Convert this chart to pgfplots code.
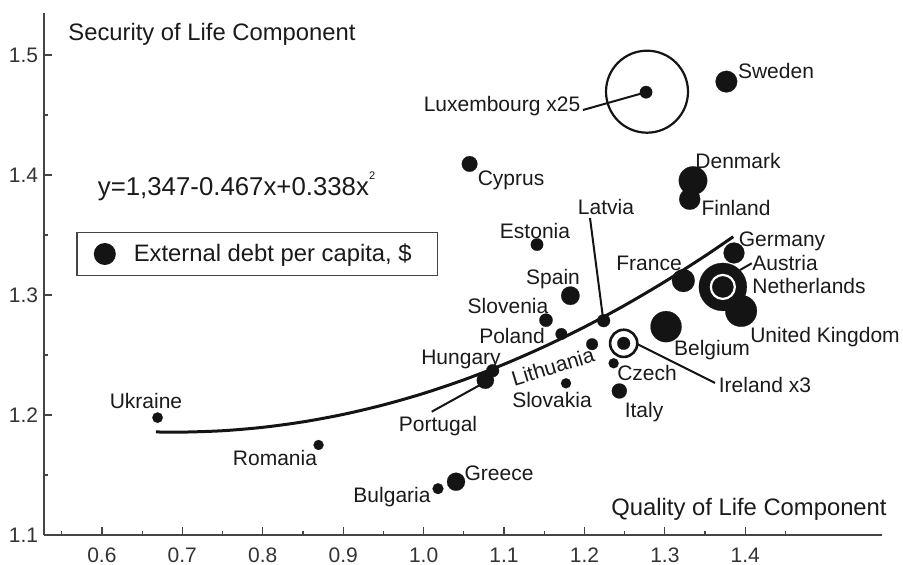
\documentclass[border=0pt]{standalone}
\usepackage{pgfplots}
\usepackage{pgfplotstable}
\pgfplotsset{compat=1.18}
\usepackage{fontspec}
\setmainfont{Liberation Sans}
\definecolor{dotc}{HTML}{141414}
\definecolor{txtc}{HTML}{1A1A1A}
\definecolor{axc}{HTML}{444444}
\definecolor{tickc}{HTML}{333333}

\pgfplotstableread{
name x y r
Ukraine 0.6692 1.1978 2.6
Romania 0.8694 1.1750 2.5
Bulgaria 1.0179 1.1386 2.7
Greece 1.0403 1.1444 4.5
Portugal 1.0768 1.2290 4.3
Hungary 1.0859 1.2369 3.2
Cyprus 1.0572 1.4092 3.9
Estonia 1.1410 1.3420 3.1
Slovenia 1.1522 1.2790 3.3
Spain 1.1825 1.2994 4.6
Poland 1.1713 1.2675 2.9
Slovakia 1.1771 1.2264 2.5
Lithuania 1.2095 1.2590 2.9
Latvia 1.2239 1.2786 3.2
Czech 1.2363 1.2431 2.5
Italy 1.2434 1.2200 3.75
Belgium 1.3015 1.2736 7.75
France 1.3230 1.3120 5.7
Netherlands 1.3721 1.3067 12.0
Germany 1.3860 1.3350 5.2
UnitedKingdom 1.3948 1.2867 7.9
Denmark 1.3350 1.3953 7.1
Finland 1.3309 1.3798 5.25
Sweden 1.3765 1.4778 5.4
}\bubbles

\pgfplotstableread{
x y
0.667 1.18588
0.70 1.18572
0.75 1.18688
0.80 1.18972
0.85 1.19426
0.90 1.20048
0.95 1.20840
1.00 1.21800
1.05 1.22930
1.10 1.24228
1.15 1.25696
1.20 1.27332
1.25 1.29138
1.30 1.31112
1.35 1.33256
1.385 1.34857
}\trend

\newcommand\lbl[4][]{\node[lab,#1] at ({(#2-44)*0.5pt},{(535-#3)*0.5pt}) {#4};}
\newcommand\lead[4]{\draw[leader] ({(#1-44)*0.5pt},{(535-#2)*0.5pt}) -- ({(#3-44)*0.5pt},{(535-#4)*0.5pt});}

\begin{document}
\begin{tikzpicture}[
  lab/.style={font=\fontsize{10.5}{12}\selectfont, text=txtc, inner sep=0pt, text height=0.716em, text depth=0pt},
  big/.style={font=\fontsize{11.9}{14}\selectfont, text=txtc, inner sep=0pt, text height=0.716em, text depth=0pt},
  leader/.style={draw=dotc, line width=1pt}]
\path[use as bounding box] (-22pt,-15pt) rectangle (429.5pt,267.5pt);
\begin{axis}[
  at={(0,0)}, anchor=south west, scale only axis,
  width=419pt, height=261pt,
  xmin=0.528, xmax=1.570, ymin=1.1, ymax=1.535,
  axis lines*=left,
  axis line style={draw=axc, line width=0.9pt},
  xtick={0.6,0.7,0.8,0.9,1.0,1.1,1.2,1.3,1.4},
  minor xtick={0.55,0.65,0.75,0.85,0.95,1.05,1.15,1.25,1.35,1.45},
  ytick={1.1,1.2,1.3,1.4,1.5},
  minor ytick={1.15,1.25,1.35,1.45},
  tick align=inside,
  major tick length=3.8pt, minor tick length=2pt,
  every tick/.style={draw=axc, line width=0.6pt},
  tick label style={font=\fontsize{10.5}{12}\selectfont, text=tickc},
  xticklabel style={inner ysep=0.5pt, yshift=-5.8pt},
  yticklabel style={xshift=0.6pt},
  /pgf/number format/.cd, fixed, fixed zerofill, precision=1, assume math mode=true,
  /pgfplots/.cd,
  clip=false,
  legend style={at={(axis description cs:0.0382,0.581)}, anchor=north west,
    draw=axc, line width=0.8pt, inner sep=0pt, fill=white,
    font=\fontsize{11.9}{14}\selectfont, text=txtc,
    nodes={inner sep=0pt}, column sep=0pt},
  legend cell align=left,
]
\addlegendimage{legend image code/.code={\fill[dotc, draw=none] (0pt,0pt) circle (5.5pt); \path[draw=none, fill=none] (-14pt,-10.75pt) rectangle (14.5pt,10.75pt);}}
\addlegendentry{External debt per capita, \$\kern13pt}

\addplot[smooth, draw=dotc, line width=1.5pt] table[x=x,y=y]{\trend};

\addplot[scatter, only marks, mark=*,
  scatter/use mapped color={draw=dotc, fill=dotc},
  visualization depends on={\thisrow{r} \as \perpointmarksize},
  scatter/@pre marker code/.append style={/tikz/mark size=\perpointmarksize},
  mark options={line width=0.1pt},
  point meta=\thisrow{r}] table[x=x,y=y]{\bubbles};

% Austria (over Netherlands), white outline
\addplot[only marks, mark=*, mark size=6pt, mark options={fill=dotc, draw=white, line width=1.1pt}] coordinates {(1.3721,1.3067)};
% Ireland x3
\addplot[only marks, mark=o, mark size=6.8pt, mark options={draw=dotc, line width=1.3pt}] coordinates {(1.2488,1.2597)};
\addplot[only marks, mark=*, mark size=3.2pt, mark options={fill=dotc, draw=dotc, line width=0.1pt}] coordinates {(1.2488,1.2597)};
% Luxembourg x25
\addplot[only marks, mark=o, mark size=20.5pt, mark options={draw=dotc, line width=1.1pt}] coordinates {(1.2778,1.4694)};
\addplot[only marks, mark=*, mark size=3.1pt, mark options={fill=dotc, draw=dotc, line width=0.1pt}] coordinates {(1.2766,1.4690)};
\end{axis}

% leader lines
\lead{583}{110}{645.7}{92.3}
\lead{590}{218}{603}{318}
\lead{740}{270}{751.7}{263.3}
\lead{637}{344}{715}{383}
\lead{431.7}{411.7}{480}{385}

% country labels
\lbl{776}{71}{Sweden}
\lbl{502}{104}{Luxembourg x25}
\lbl{738}{161}{Denmark}
\lbl{736}{208}{Finland}
\lbl{511}{178}{Cyprus}
\lbl{535}{231}{Estonia}
\lbl{606}{207}{Latvia}
\lbl{782}{239}{Germany}
\lbl{649}{263}{France}
\lbl{785}{263}{Austria}
\lbl{809}{286}{Netherlands}
\lbl{553}{277}{Spain}
\lbl{508}{306}{Slovenia}
\lbl{512}{336}{Poland}
\lbl{825}{335}{United Kingdom}
\lbl{712}{348}{Belgium}
\lbl{461}{357}{Hungary}
\lbl[rotate=17]{553}{367}{Lithuania}
\lbl{647}{373}{Czech}
\lbl{765}{385}{Ireland x3}
\lbl{552}{400}{Slovakia}
\lbl{644}{410}{Italy}
\lbl{438}{424}{Portugal}
\lbl{146}{401}{Ukraine}
\lbl{275}{458}{Romania}
\lbl{392}{495}{Bulgaria}
\lbl{499}{473}{Greece}

% titles and equation
\node[big, anchor=east] at ({(887-44)*0.5pt},{(535-508)*0.5pt}) {Quality of Life Component};
\node[big, anchor=west] at ({(68-44)*0.5pt},{(535-33)*0.5pt}) {Security of Life Component};
\node[big, anchor=west, font=\fontsize{12.9}{14}\selectfont] at ({(97.5-44)*0.5pt},{(535-188)*0.5pt}) {y=1,347-0.467x+0.338x\raisebox{0.62em}{\fontsize{5.5}{6}\selectfont 2}};
\end{tikzpicture}
\end{document}
